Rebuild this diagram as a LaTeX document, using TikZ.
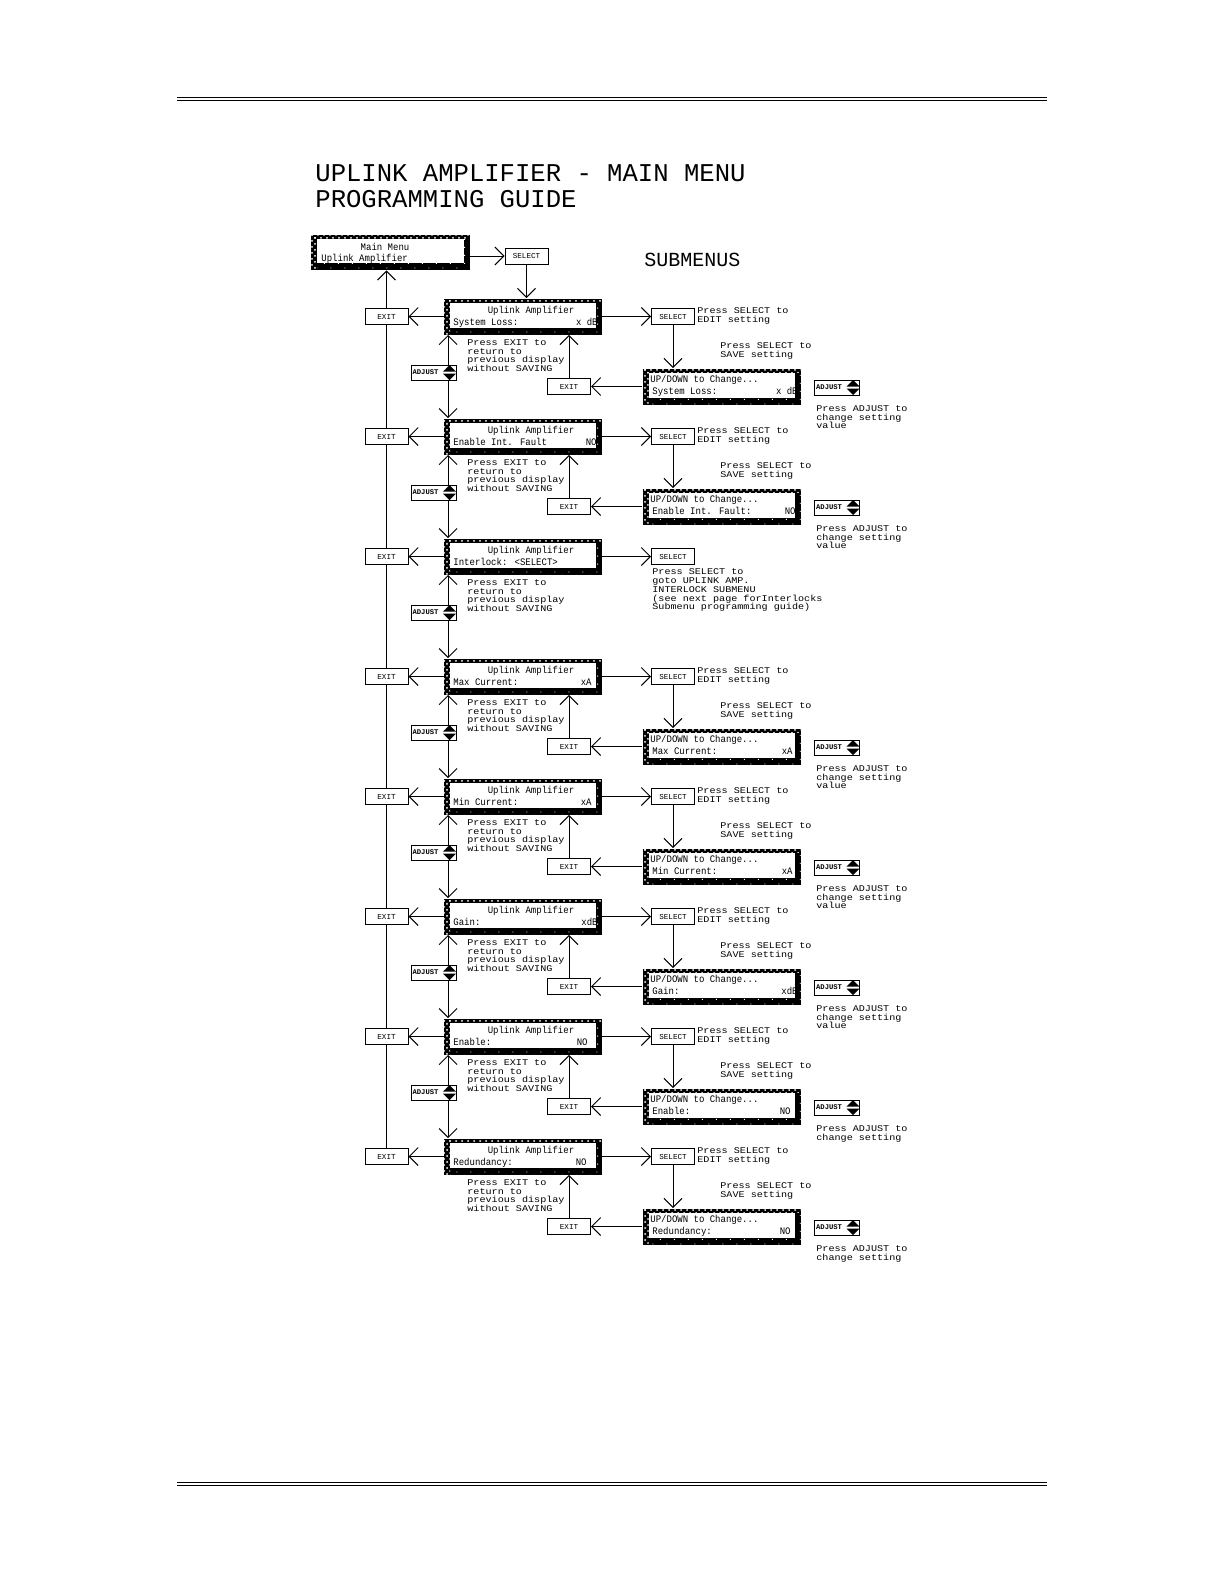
\documentclass[tikz,border=0pt]{standalone}
\usepackage{fontspec}
\usetikzlibrary{arrows.meta,patterns,calc}
\newfontfamily\lcdfont{Liberation Mono}
\newfontfamily\dispfont[FakeStretch=0.9]{Liberation Mono}
\newfontfamily\notefont[FakeStretch=1.15]{Liberation Mono}
\pgfdeclarepatternformonly{sparsedots}{\pgfpointorigin}{\pgfqpoint{7pt}{4pt}}{\pgfqpoint{7pt}{4pt}}{%
 \pgfpathrectangle{\pgfqpoint{1pt}{0.6pt}}{\pgfqpoint{0.5pt}{0.5pt}}%
 \pgfpathrectangle{\pgfqpoint{4.5pt}{2.4pt}}{\pgfqpoint{0.5pt}{0.5pt}}%
 \pgfusepath{fill}}
\tikzset{
 arr/.style={line width=0.5pt,-{Straight Barb[length=4.5pt,width=9pt]}},
 dbl/.style={line width=0.5pt,{Straight Barb[length=4.5pt,width=9pt]}-{Straight Barb[length=4.5pt,width=9pt]}},
 plainline/.style={line width=0.5pt},
 disp/.style={fill=black,inner sep=0pt,minimum width=79pt,minimum height=18pt,
   path picture={
    \fill[white] ([xshift=3pt,yshift=3.3pt]path picture bounding box.south west) rectangle ([xshift=-3pt,yshift=-2pt]path picture bounding box.north east);
    \fill[pattern=crosshatch dots,pattern color=white] (path picture bounding box.north west) rectangle ([yshift=-2pt]path picture bounding box.north east);
    \fill[pattern=crosshatch dots,pattern color=white] (path picture bounding box.south west) rectangle ([xshift=3pt]path picture bounding box.north west);
    \fill[pattern=sparsedots,pattern color=white] ([xshift=3pt]path picture bounding box.south west) rectangle ([yshift=3.3pt]path picture bounding box.south east);
    \fill[pattern=sparsedots,pattern color=white] ([xshift=-3pt,yshift=3.3pt]path picture bounding box.south east) rectangle ([yshift=-2pt]path picture bounding box.north east);
   }},
 dtext/.style={font=\dispfont\fontsize{5pt}{5.5pt}\selectfont,inner sep=0pt},
 note/.style={font=\notefont\fontsize{4.4pt}{4.4pt}\selectfont,inner sep=0pt,align=left,anchor=north west},
 exitbox/.style={draw,line width=0.5pt,fill=white,minimum width=21.5pt,minimum height=8pt,inner sep=0pt,font=\lcdfont\fontsize{3.8pt}{4pt}\selectfont},
 selbox/.style={exitbox},
 adjbox/.style={draw,line width=0.5pt,fill=white,minimum height=7.5pt,inner xsep=0.8pt,inner ysep=0pt,text width=20.9pt,align=left,font=\lcdfont\bfseries\fontsize{3.6pt}{4pt}\selectfont},
 titletext/.style={font=\lcdfont\fontsize{12.8pt}{15pt}\selectfont,inner sep=0pt,anchor=base west},
}
\newcommand\adjicon[3]{%
 \node[adjbox] (#1) at (#2,#3) {ADJUST};
 \fill (#2+16,#3-7.5) -- (#2+22.5,#3-1) -- (#2+9.5,#3-1) -- cycle;
 \fill (#2+9.5,#3+1) -- (#2+22.5,#3+1) -- (#2+16,#3+7.5) -- cycle;
}
\newcommand\mkmain[5]{%
 \node[disp] (d#1) at (523,#2) {};
 \node[dtext,anchor=base] (d#1a) at (531,#2-3) {Uplink Amplifier};
 \node[dtext,anchor=base west] (d#1b) at (453,#2+9) {#3};
 \node[dtext,anchor=base east] (d#1c) at (#5,#2+9) {#4};
 \node[exitbox] (L#1) at (386.5,#2) {EXIT};
 \draw[arr] (d#1.west) -- (L#1.east);
 \node[note] (n#1) at (467,#2+22.5) {Press EXIT to\\return to\\previous display\\without SAVING};
 \node[selbox] (S#1) at (673,#2) {SELECT};
 \draw[arr] (d#1.east) -- (S#1.west);
}
\newcommand\mkedit[6]{%
 \node[disp] (e#1) at (721.5,#2+70) {};
 \node[dtext,anchor=base west] (e#1a) at (650,#2+66) {UP/DOWN to Change...};
 \node[dtext,anchor=base west] (e#1b) at (652,#2+78) {#3};
 \node[dtext,anchor=base east] (e#1c) at (#5,#2+78) {#4};
 \draw[arr] (S#1.south) -- (S#1.south |- e#1.north);
 \node[exitbox] (R#1) at (569,#2+70) {EXIT};
 \draw[arr] (e#1.west) -- (R#1.east);
 \draw[arr] (R#1.north) -- (R#1.north |- d#1.south);
 \node[note] (p#1) at (697,#2-9.5) {Press SELECT to\\EDIT setting};
 \node[note] (q#1) at (720,#2+25.5) {Press SELECT to\\SAVE setting};
 \adjicon{B#1}{837}{#2+71}
 \node[note] (r#1) at (816,#2+88.5) {#6};
}
\begin{document}
\begin{tikzpicture}[x=0.5pt,y=-0.5pt]
\fill[white] (0,0) rectangle (1225,1585);
\useasboundingbox (0,0) rectangle (1225,1585);
% header and footer rules
\draw[line width=0.6pt] (177,97.5) -- (1047,97.5);
\draw[line width=0.5pt] (177,100) -- (1047,100);
\draw[line width=0.6pt] (177,1482.7) -- (1047,1482.7);
\draw[line width=0.5pt] (177,1485.2) -- (1047,1485.2);
% titles
\node[titletext] (t1) at (315,181) {UPLINK AMPLIFIER - MAIN MENU};
\node[titletext] (t2) at (315,207.5) {PROGRAMMING GUIDE};
\node[font=\lcdfont\fontsize{10pt}{12pt}\selectfont,inner sep=0pt,anchor=base west] (sub) at (644,266) {SUBMENUS};
% main menu
\node[disp,minimum width=79.5pt,minimum height=17.5pt] (mm) at (390.5,252.5) {};
\node[dtext,anchor=base] (mma) at (385,250) {Main Menu};
\node[dtext,anchor=base west] (mmb) at (321,261) {Uplink Amplifier};
\node[selbox] (S0) at (526.5,256) {SELECT};
\draw[arr] (S0.west -| mm.east) -- (S0.west);
% rows
\mkmain{1}{316.5}{System Loss:}{x dB}{598}
\mkmain{2}{436.5}{Enable Int. Fault}{NO}{597}
\mkmain{3}{556.5}{Interlock: <SELECT>}{}{597}
\mkmain{4}{676.5}{Max Current:}{xA}{592}
\mkmain{5}{796.5}{Min Current:}{xA}{592}
\mkmain{6}{916.5}{Gain:}{xdB}{598}
\mkmain{7}{1036.5}{Enable:}{NO}{588}
\mkmain{8}{1156.5}{Redundancy:}{NO}{587}
\draw[arr] (S0.south) -- (S0.south |- d1.north);
\mkedit{1}{316.5}{System Loss:}{x dB}{798}{Press ADJUST to\\change setting\\value}
\mkedit{2}{436.5}{Enable Int. Fault:}{NO}{796}{Press ADJUST to\\change setting\\value}
\mkedit{4}{676.5}{Max Current:}{xA}{793}{Press ADJUST to\\change setting\\value}
\mkedit{5}{796.5}{Min Current:}{xA}{793}{Press ADJUST to\\change setting\\value}
\mkedit{6}{916.5}{Gain:}{xdB}{798}{Press ADJUST to\\change setting\\value}
\mkedit{7}{1036.5}{Enable:}{NO}{791}{Press ADJUST to\\change setting}
\mkedit{8}{1156.5}{Redundancy:}{NO}{791}{Press ADJUST to\\change setting}
\node[note] (p3) at (652,568.5) {Press SELECT to\\goto UPLINK AMP.\\INTERLOCK SUBMENU\\(see next page forInterlocks\\Submenu programming guide)};
% left exit chain
\foreach \a/\b in {2/1,3/2,4/3,5/4,6/5,7/6,8/7} {\draw[plainline] (L\a.north) -- (L\b.south);}
\draw[arr] (L1.north) -- (L1.north |- mm.south);
% centre chain with adjust icons
\foreach \a/\b/\y in {1/2/316.5,2/3/436.5,3/4/556.5,4/5/676.5,5/6/796.5,6/7/916.5,7/8/1036.5} {
 \draw[dbl] ($(d\a.south west)+(4.5,0)$) -- ($(d\b.north west)+(4.5,0)$);
 \adjicon{A\a}{433.5}{\y+56}
}
\end{tikzpicture}
\end{document}
